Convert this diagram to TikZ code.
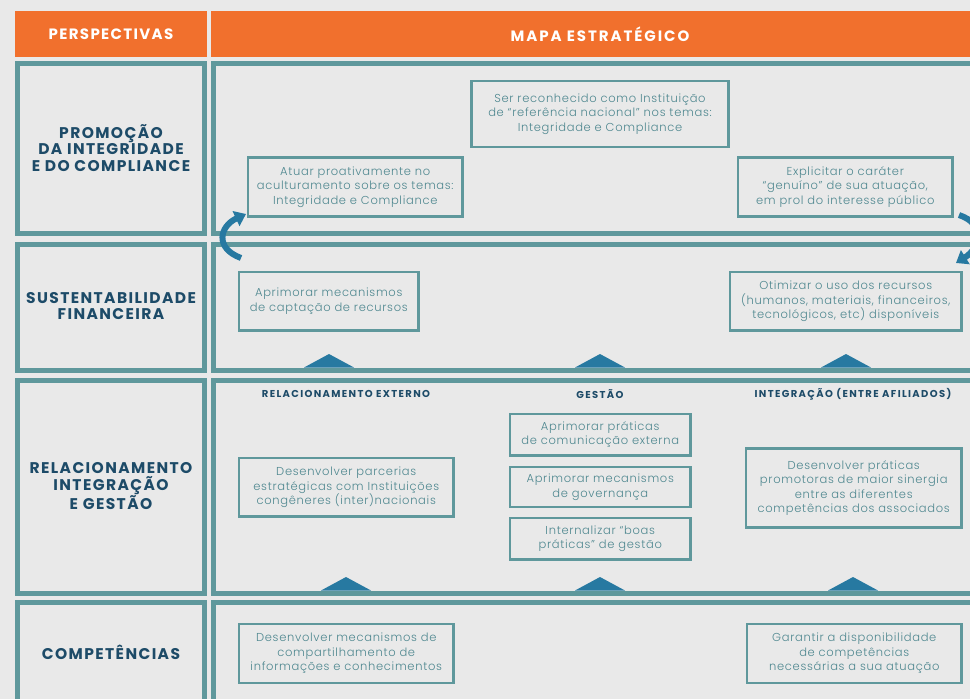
\documentclass[tikz,border=0pt]{standalone}
\usepackage{fontspec}
\setmainfont{Poppins}
\newfontfamily\hdfont{Poppins}[LetterSpace=9]
\newfontfamily\hdwfont{Poppins}[LetterSpace=13]
\newfontfamily\lbfont{Poppins}[LetterSpace=9]
\IfFontExistsTF{Poppins Light}
  {\newfontfamily\bdfont{Poppins Light}[LetterSpace=6]}
  {\newfontfamily\bdfont{Poppins}[LetterSpace=6.5]}
\newfontfamily\sbfont{Poppins}[LetterSpace=13.5]
\usetikzlibrary{arrows.meta}
\definecolor{bgc}{HTML}{E9E9E9}
\definecolor{orangeh}{HTML}{F1702D}
\definecolor{tealf}{HTML}{5F989C}
\definecolor{navyt}{HTML}{1D4B68}
\definecolor{boxtxt}{HTML}{4E878F}
\definecolor{trib}{HTML}{2779A1}
\tikzset{
  hdcell/.style={fill=orangeh, inner sep=0, text=white, font=\hdfont\bfseries\fontsize{15}{17}\selectfont},
  rowframe/.style={draw=tealf, line width=5pt, inner sep=0},
  rowlabel/.style={text=navyt, align=center, font=\lbfont\bfseries\fontsize{15.5}{16.5}\selectfont},
  goalbox/.style={draw=tealf, line width=2.8pt, inner sep=0, text=boxtxt, align=center, font=\bdfont\fontsize{11.5}{14.5}\selectfont},
  subhead/.style={text=navyt, font=\sbfont\bfseries\fontsize{10}{11}\selectfont},
  tribox/.style={fill=trib, draw=none},
  cycarrow/.style={draw=trib, line width=6pt, -{Triangle[width=16pt,length=11pt]}}
}
\newcommand\cellnode[6]{\node[#6, minimum width={#4-#2}, minimum height={#5-#3}] (#1) at ({(#2+#4)/2},{(#3+#5)/2}) {};}
\newcommand\goal[6]{\node[goalbox, minimum width={#4-#2}, minimum height={#5-#3}] (#1) at ({(#2+#4)/2},{(#3+#5)/2}) {#6};}
\newcommand\tri[3]{\fill[tribox] (#1-25,#2) -- (#1,#3) -- (#1+25,#2) -- cycle;}
\begin{document}
\begin{tikzpicture}[x=1pt,y=-1pt]
\useasboundingbox (0,0) rectangle (970,699);
\clip (0,0) rectangle (970,699);
\fill[bgc] (0,0) rectangle (970,699);
% header
\node[hdcell, minimum width=192, minimum height=46] (hl) at (111,34) {PERSPECTIVAS};
\node[hdcell, minimum width=789, minimum height=46] (hr) at (605.5,34) {};
\node[text=white, font=\hdwfont\bfseries\fontsize{15}{17}\selectfont] (hrt) at (600,34) {MAPA ESTRATÉGICO};
% row frames
\cellnode{l1}{17.5}{63}{204.2}{233.5}{rowframe}
\cellnode{r1}{213.5}{63}{1000}{233.5}{rowframe}
\cellnode{l2}{17.5}{244.2}{204.2}{370.5}{rowframe}
\cellnode{r2}{213.5}{244.2}{1000}{370.5}{rowframe}
\cellnode{l3}{17.5}{380.5}{204.2}{593.5}{rowframe}
\cellnode{r3}{213.5}{380.5}{1000}{593.5}{rowframe}
\cellnode{l4}{17.5}{602.5}{204.2}{720}{rowframe}
\cellnode{r4}{213.5}{602.5}{1000}{720}{rowframe}
% row labels
\node[rowlabel] (p1) at (111,148) {PROMOÇÃO\\DA INTEGRIDADE\\E DO COMPLIANCE};
\node[rowlabel] (p2) at (111,306) {SUSTENTABILIDADE\\FINANCEIRA};
\node[rowlabel] (p3) at (111,486) {RELACIONAMENTO\\INTEGRAÇÃO\\E GESTÃO};
\node[rowlabel] (p4) at (111,652) {COMPETÊNCIAS};
% goals row 1
\goal{g1}{471.5}{81}{728.5}{147}{Ser reconhecido como Instituição\\de “referência nacional” nos temas:\\Integridade e Compliance}
\goal{g2}{248}{157.5}{462.5}{216.5}{Atuar proativamente no\\aculturamento sobre os temas:\\Integridade e Compliance}
\goal{g3}{738}{157.5}{952.5}{216.5}{Explicitar o caráter\\“genuíno” de sua atuação,\\em prol do interesse público}
% goals row 2
\goal{g4}{239}{272}{418.5}{330.5}{Aprimorar mecanismos\\de captação de recursos}
\goal{g5}{730}{272}{961.5}{330.5}{Otimizar o uso dos recursos\\(humanos, materiais, financeiros,\\tecnológicos, etc) disponíveis}
% row 3
\node[subhead] (s1) at (346,394) {RELACIONAMENTO EXTERNO};
\node[subhead] (s2) at (600,394) {GESTÃO};
\node[subhead] (s3) at (853,394) {INTEGRAÇÃO (ENTRE AFILIADOS)};
\goal{g6}{239}{458}{453.5}{516.5}{Desenvolver parcerias\\estratégicas com Instituições\\congêneres (inter)nacionais}
\goal{g7}{510}{414}{690.5}{455.5}{Aprimorar práticas\\de comunicação externa}
\goal{g8}{510}{467}{690.5}{507}{Aprimorar mecanismos\\de governança}
\goal{g9}{510}{518}{690.5}{559.5}{Internalizar “boas\\práticas” de gestão}
\goal{g10}{746}{448.5}{961.5}{527.5}{Desenvolver práticas\\promotoras de maior sinergia\\entre as diferentes\\competências dos associados}
% row 4
\goal{g11}{239}{624}{453.5}{683}{Desenvolver mecanismos de\\compartilhamento de\\informações e conhecimentos}
\goal{g12}{747}{624}{961.5}{683}{Garantir a disponibilidade\\de competências\\necessárias a sua atuação}
% triangles
\tri{329}{367.5}{354}
\tri{600}{367.5}{354}
\tri{846}{367.5}{354}
\tri{346}{590.5}{577}
\tri{600}{590.5}{577}
\tri{853}{590.5}{577}
% cycle arrows
\coordinate (la1) at (241,258);
\coordinate (la2) at (246,214);
\coordinate (ra1) at (959,215);
\coordinate (ra2) at (956,263);
\draw[cycarrow] (la1) .. controls (214,248) and (220,226) .. (la2);
\draw[cycarrow] (ra1) .. controls (986,224) and (980,248) .. (ra2);
\end{tikzpicture}
\end{document}
